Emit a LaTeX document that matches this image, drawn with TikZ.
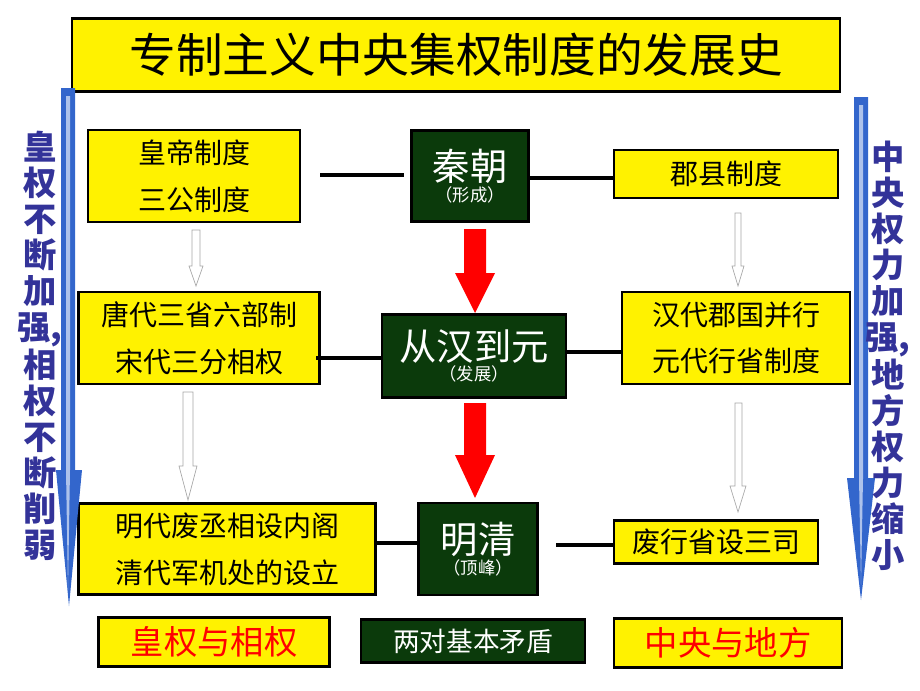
\documentclass[tikz,border=0pt]{standalone}
\usepackage{fontspec}
\newfontfamily\cjk{Noto Sans CJK SC}
\usetikzlibrary{arrows.meta}
\definecolor{qgreen}{HTML}{0B3A0B}
\definecolor{sideblue}{HTML}{3366CC}
\definecolor{textblue}{HTML}{333399}
\begin{document}
\begin{tikzpicture}[x=0.75pt,y=-0.75pt,inner sep=0pt,outer sep=0pt,
ybox/.style={draw,fill=yellow,line width=2.2pt,align=center,font=\cjk\fontsize{21}{35}\selectfont},
gbox/.style={draw,fill=qgreen,line width=2pt,text=white,align=center},
link/.style={line width=3pt},
redarrow/.style={draw=none,fill=red,line width=0.6pt},
hollow/.style={draw=gray!70,fill=white,line width=0.5pt},
sidetext/.style={text=textblue,align=center,font=\cjk\bfseries\fontsize{25}{27}\selectfont}]

\useasboundingbox (0,0) rectangle (920,690);
\node[ybox,minimum width=576pt,minimum height=55pt,font=\cjk\fontsize{35}{37}\selectfont] (title) at (456,55) {专制主义中央集权制度的发展史};

\node[ybox,minimum width=159pt,minimum height=69pt] (huang) at (194,176) {皇帝制度\\三公制度};
\node[gbox,minimum width=88pt,minimum height=68pt] (qin) at (470,176) {{\cjk\fontsize{28}{30}\selectfont 秦朝}\\[1pt]{\cjk\fontsize{13}{15}\selectfont （形成）}};
\node[ybox,minimum width=168pt,minimum height=36pt] (junxian) at (726,174) {郡县制度};

\node[ybox,minimum width=181pt,minimum height=69pt] (tang) at (199,338) {唐代三省六部制\\宋代三分相权};
\node[gbox,minimum width=138pt,minimum height=62pt] (hanyuan) at (474,356) {{\cjk\fontsize{28}{30}\selectfont 从汉到元}\\[1pt]{\cjk\fontsize{13}{15}\selectfont （发展）}};
\node[ybox,minimum width=171pt,minimum height=69pt] (hanguo) at (736,338) {汉代郡国并行\\元代行省制度};

\node[ybox,minimum width=223pt,minimum height=68pt] (ming) at (227,549) {明代废丞相设内阁\\清代军机处的设立};
\node[gbox,minimum width=89pt,minimum height=69pt] (mingqing) at (478,549) {{\cjk\fontsize{28}{30}\selectfont 明清}\\[1pt]{\cjk\fontsize{13}{15}\selectfont （顶峰）}};
\node[ybox,minimum width=153pt,minimum height=32pt] (sansi) at (716,542) {废行省设三司};

\node[ybox,minimum width=173pt,minimum height=37pt,text=red,font=\cjk\fontsize{25}{27}\selectfont] (huangxiang) at (214,642) {皇权与相权};
\node[gbox,draw=black,minimum width=168pt,minimum height=32pt,font=\cjk\fontsize{20}{22}\selectfont] (maodun) at (473,641) {两对基本矛盾};
\node[ybox,minimum width=171pt,minimum height=37pt,text=red,font=\cjk\fontsize{25}{27}\selectfont] (zhongdi) at (728,643) {中央与地方};

% connectors
\draw[link] (320,175) -- (404,175);
\draw[link] (qin.east|-0,178) -- (junxian.west|-0,178);
\draw[link] (316,358) -- (hanyuan.west|-0,358);
\draw[link] (hanyuan.east|-0,352) -- (hanguo.west|-0,352);
\draw[link] (ming.east|-0,543) -- (mingqing.west|-0,543);
\draw[link] (556,545) -- (sansi.west|-0,545);

% red arrows
\fill[redarrow] (464,229) -- (486,229) -- (486,273) -- (495,273) -- (475,313) -- (455,273) -- (464,273) -- cycle;
\fill[redarrow] (464,403) -- (486,403) -- (486,455) -- (495,455) -- (475,498) -- (455,455) -- (464,455) -- cycle;

% hollow arrows
\filldraw[hollow] (192,230) -- (200,230) -- (200,266) -- (203,266) -- (196,286) -- (189,266) -- (192,266) -- cycle;
\filldraw[hollow] (183,392) -- (193,392) -- (193,466) -- (197,466) -- (188,500) -- (179,466) -- (183,466) -- cycle;
\filldraw[hollow] (735,213) -- (741,213) -- (741,266) -- (744,266) -- (738,286) -- (732,266) -- (735,266) -- cycle;
\filldraw[hollow] (735,403) -- (742,403) -- (742,486) -- (746,486) -- (738,512) -- (730,486) -- (735,486) -- cycle;

% side arrows
\fill[sideblue] (61,88) -- (75,88) -- (75,470) -- (82,470) -- (69,606) -- (56,470) -- (61,470) -- cycle;
\fill[sideblue!40] (66,96) -- (70,96) -- (70,470) -- (68,590) -- (66,470) -- cycle;
\fill[sideblue] (854,97) -- (868,97) -- (868,478) -- (875,478) -- (861,600) -- (847,478) -- (854,478) -- cycle;
\fill[sideblue!40] (859,105) -- (863,105) -- (863,478) -- (861,585) -- (859,478) -- cycle;

\node[sidetext] (lefttext) at (40,346) {皇\\权\\不\\断\\加\\强,\\相\\权\\不\\断\\削\\弱};
\node[sidetext] (righttext) at (888,356) {中\\央\\权\\力\\加\\强,\\地\\方\\权\\力\\缩\\小};
\end{tikzpicture}
\end{document}
